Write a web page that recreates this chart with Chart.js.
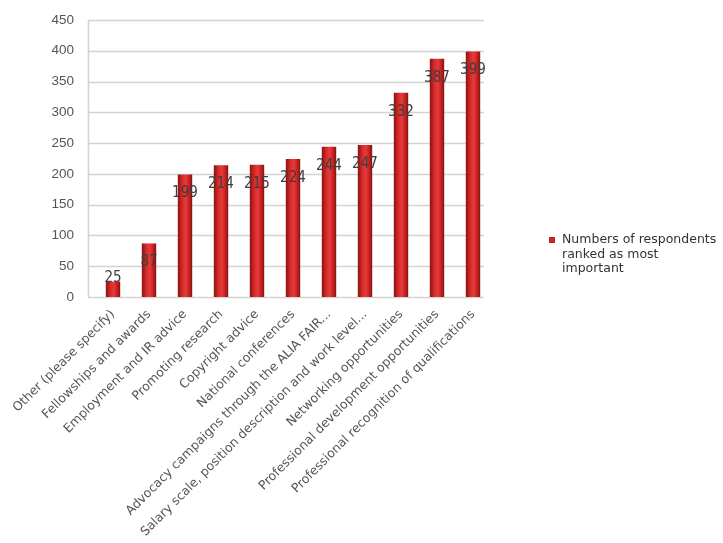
<!DOCTYPE html>
<html><head><meta charset="utf-8">
<script src="https://cdn.jsdelivr.net/npm/chart.js@4"></script>
<style>html,body{margin:0;padding:0;background:#fff}#wrap{width:723px;height:543px;position:relative}</style>
</head><body><div id="wrap"><canvas id="c" width="723" height="543"></canvas></div>
<script>
const categories = [
  "Other (please specify)",
  "Fellowships and awards",
  "Employment and IR advice",
  "Promoting research",
  "Copyright advice",
  "National conferences",
  "Advocacy campaigns through the ALIA FAIR...",
  "Salary scale, position description and work level...",
  "Networking opportunities",
  "Professional development opportunities",
  "Professional recognition of qualifications"
];
const seriesName = "Numbers of respondents ranked as most important";
const legendLines = ["Numbers of respondents", "ranked as most", "important"];
const values = [25, 87, 199, 214, 215, 224, 244, 247, 332, 387, 399];
const yTicks = [0, 50, 100, 150, 200, 250, 300, 350, 400, 450];

const WALL_SHIFT = 7;

const backGrid = {
  id: 'backGrid',
  beforeDatasetsDraw(chart) {
    const {ctx, chartArea: a, scales: {y}} = chart;
    ctx.save();
    ctx.strokeStyle = '#d4d4d4';
    ctx.lineWidth = 1.5;
    const l = a.left - WALL_SHIFT, r = a.right - WALL_SHIFT;
    yTicks.forEach(v => {
      const py = Math.round(y.getPixelForValue(v)) + 0.5;
      ctx.beginPath(); ctx.moveTo(l, py); ctx.lineTo(r, py); ctx.stroke();
    });
    ctx.beginPath();
    ctx.moveTo(l + 0.5, y.getPixelForValue(450)); ctx.lineTo(l + 0.5, y.getPixelForValue(0));
    ctx.stroke();
    // y tick labels
    ctx.font = '13.5px "Liberation Sans", sans-serif';
    ctx.fillStyle = '#555';
    ctx.textAlign = 'right';
    ctx.textBaseline = 'middle';
    yTicks.forEach(v => ctx.fillText(String(v), l - 14, y.getPixelForValue(v)));
    ctx.restore();
  }
};

const barLabels = {
  id: 'barLabels',
  afterDatasetsDraw(chart) {
    const {ctx} = chart;
    const meta = chart.getDatasetMeta(0);
    ctx.save();
    ctx.font = '15px "Liberation Sans Narrow", "DejaVu Sans Condensed", sans-serif';
    ctx.fillStyle = '#3d3d3d';
    ctx.textAlign = 'center';
    ctx.textBaseline = 'middle';
    meta.data.forEach((bar, i) => {
      const y = Math.min(bar.y + 19, bar.base - 19);
      ctx.fillText(String(values[i]), bar.x, y);
    });
    ctx.restore();
  }
};

const sideLegend = {
  id: 'sideLegend',
  afterDraw(chart) {
    const {ctx} = chart;
    ctx.save();
    ctx.fillStyle = '#c0262b';
    ctx.fillRect(549, 237, 6, 6);
    ctx.font = '12.5px "DejaVu Sans", sans-serif';
    ctx.fillStyle = '#333';
    ctx.textBaseline = 'middle';
    legendLines.forEach((t, i) => ctx.fillText(t, 562, 240 + i * 14.5));
    ctx.restore();
  }
};

new Chart(document.getElementById('c'), {
  type: 'bar',
  data: {
    labels: categories,
    datasets: [{
      label: seriesName,
      data: values,
      backgroundColor(context) {
        const chart = context.chart;
        const x = chart.scales.x ? chart.scales.x.getPixelForValue(context.dataIndex) : 0;
        if (!isFinite(x)) return '#c62828';
        const g = chart.ctx.createLinearGradient(x - 7, 0, x + 7, 0);
        g.addColorStop(0, '#8e1212');
        g.addColorStop(0.3, '#d42a2a');
        g.addColorStop(0.55, '#e83a3a');
        g.addColorStop(0.8, '#c42222');
        g.addColorStop(1, '#8a1010');
        return g;
      },
      borderWidth: 0,
      categoryPercentage: 1,
      barPercentage: 0.4
    }]
  },
  options: {
    responsive: false,
    animation: false,
    devicePixelRatio: 1,
    layout: {padding: {top: 20, right: 232, left: 0, bottom: 0}},
    plugins: {legend: {display: false}, tooltip: {enabled: false}, title: {display: false}},
    scales: {
      x: {
        grid: {display: false},
        border: {display: false},
        ticks: {
          autoSkip: false, maxRotation: 45, minRotation: 45, padding: 2,
          color: '#555',
          font: {family: '"DejaVu Sans", sans-serif', size: 12.5}
        },
        afterFit(s) { s.height = 246; }
      },
      y: {
        min: 0, max: 450,
        grid: {display: false, drawTicks: false},
        border: {display: false},
        ticks: {display: false, stepSize: 50},
        afterFit(s) { s.width = 95; }
      }
    }
  },
  plugins: [backGrid, barLabels, sideLegend]
});
</script>
</body></html>
